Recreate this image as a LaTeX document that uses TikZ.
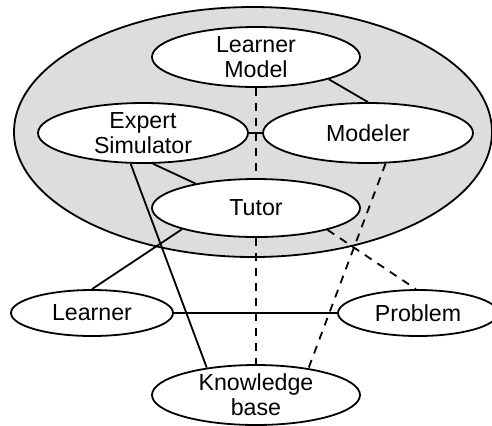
\documentclass[tikz,border=0pt]{standalone}
\usepackage{fontspec}
\setmainfont{Liberation Sans}
\usetikzlibrary{shapes.geometric}
\definecolor{shellGray}{RGB}{221,221,221}

\begin{document}
\begin{tikzpicture}[
    x=0.5pt, y=-0.5pt,
    shell/.style={ellipse, draw, fill=shellGray, line width=0.9pt, minimum width=239pt, minimum height=125pt},
    module/.style={ellipse, draw, fill=white, inner sep=0pt, align=center, line width=0.9pt,
        minimum width=104pt, minimum height=30pt, font=\fontsize{11.6}{12.5}\selectfont},
    actor/.style={module, minimum width=80pt, minimum height=23pt},
    link/.style={line width=0.9pt},
    weak/.style={line width=0.9pt, dash pattern=on 4pt off 3.5pt}
]
\useasboundingbox (0,0) rectangle (492,425);

% Tutoring system
\node[shell] (system) at (253,132) {};

\node[module] (lmodel) at (256,57) {Learner\\Model};
\node[module, minimum width=105pt] (expert) at (143,133) {Expert\\Simulator};
\node[module, minimum width=105pt] (modeler) at (368,133) {Modeler};
\node[module, minimum height=29pt] (tutor) at (256,208) {Tutor};

% Outside
\node[actor, minimum width=81pt] (learner) at (92,313) {Learner};
\node[actor] (problem) at (418,313) {Problem};
\node[module] (kbase) at (256,395) {Knowledge\\base};

\draw[link] (lmodel.-17) -- (modeler.north);
\draw[link] (expert) -- (modeler);
\draw[weak] (lmodel) -- (tutor);
\draw[link] (expert.-72) -- (tutor.158);
\draw[link] (expert.-112) -- (kbase.151);
\draw[weak] (modeler.-60) -- (kbase.27);
\draw[link] (tutor.196) -- (learner.north);
\draw[weak] (tutor.-17) -- (problem.95);
\draw[weak] (tutor) -- (kbase);
\draw[link] (learner) -- (problem);

\end{tikzpicture}
\end{document}
